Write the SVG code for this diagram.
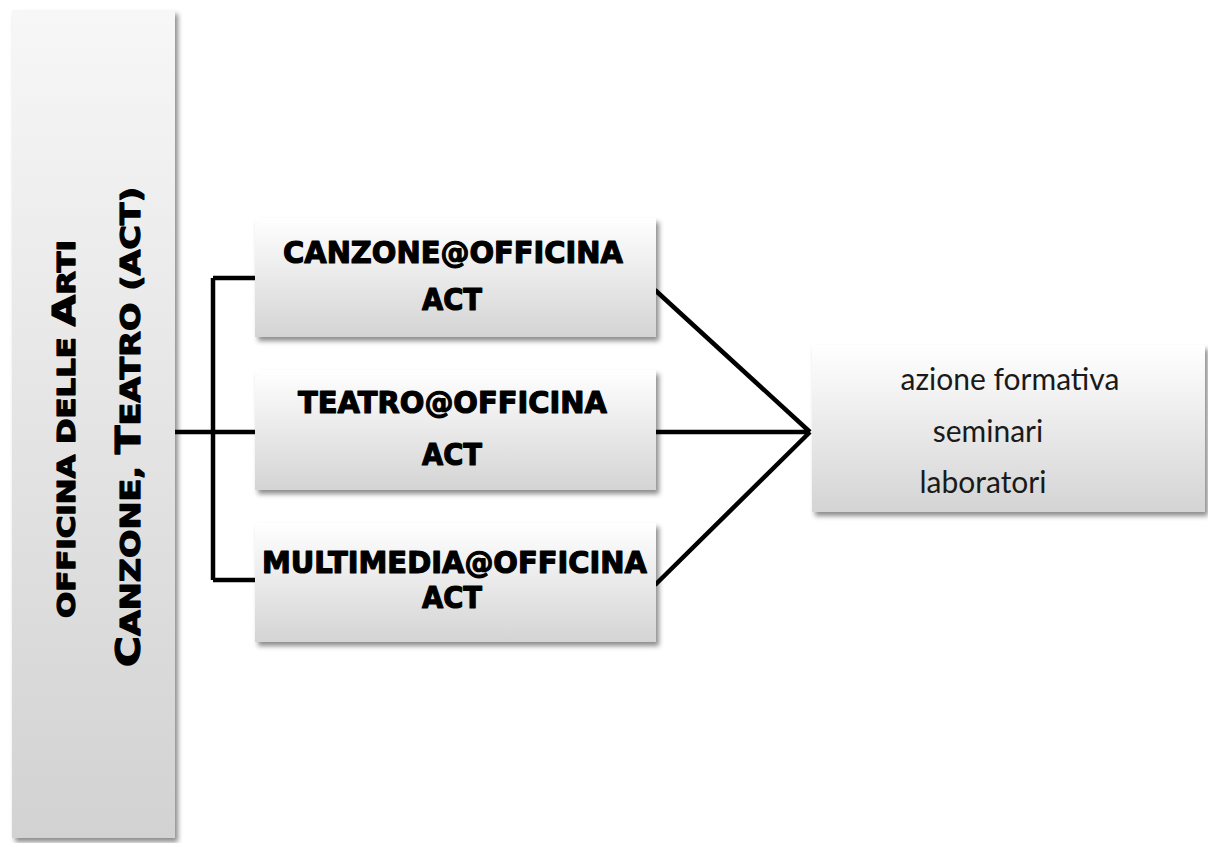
<svg xmlns="http://www.w3.org/2000/svg" width="1208" height="843" viewBox="0 0 1208 843">
<defs>
<linearGradient id="g" x1="0" y1="0" x2="0" y2="1">
<stop offset="0" stop-color="#ffffff"/>
<stop offset="1" stop-color="#d4d4d4"/>
</linearGradient>
<linearGradient id="gl" x1="0" y1="0" x2="0" y2="1">
<stop offset="0" stop-color="#f7f7f7"/>
<stop offset="1" stop-color="#d2d2d2"/>
</linearGradient>
<filter id="sh" x="-10%" y="-10%" width="130%" height="130%">
<feDropShadow dx="3" dy="4" stdDeviation="2.5" flood-color="#000" flood-opacity="0.45"/>
</filter>
</defs>
<style>
.box{fill:url(#g);filter:url(#sh);}
.hd{font-family:"DejaVu Sans",sans-serif;font-weight:bold;fill:#000;stroke:#000;stroke-width:1.2;stroke-linejoin:round;}
.lb{font-family:"Lato","Noto Sans",sans-serif;font-size:30px;fill:#1a1a1a;text-anchor:middle;}
.ln{fill:none;stroke:#000;stroke-width:4.5;}
</style>
<rect width="1208" height="843" fill="#fff"/>
<g id="connectors">
<path class="ln" d="M175 432 H255 M213 278 V580 M213 278 H255 M213 580 H255"/>
<path class="ln" d="M655 290 L810 432 M655 432 H810 M655 585 L810 432"/>
</g>
<g id="node-officina">
<rect x="12" y="10" width="163" height="828" fill="url(#gl)" filter="url(#sh)"/>
<text class="hd" transform="translate(75,618) rotate(-90)" font-size="24" textLength="378" lengthAdjust="spacingAndGlyphs">OFFICINA DELLE <tspan font-size="32">A</tspan>RTI</text>
<text class="hd" transform="translate(140,667) rotate(-90)" font-size="27" textLength="480" lengthAdjust="spacingAndGlyphs"><tspan font-size="34">C</tspan>ANZONE, <tspan font-size="34">T</tspan>EATRO  (ACT)</text>
</g>
<g id="node-canzone">
<rect class="box" x="255" y="218" width="401" height="119"/>
<text class="hd" x="283" y="263" font-size="30" textLength="340" lengthAdjust="spacingAndGlyphs">CANZONE@OFFICINA</text>
<text class="hd" x="422" y="310" font-size="30" textLength="60" lengthAdjust="spacingAndGlyphs">ACT</text>
</g>
<g id="node-teatro">
<rect class="box" x="255" y="370" width="401" height="120"/>
<text class="hd" x="298" y="413" font-size="30" textLength="309" lengthAdjust="spacingAndGlyphs">TEATRO@OFFICINA</text>
<text class="hd" x="422" y="465" font-size="30" textLength="60" lengthAdjust="spacingAndGlyphs">ACT</text>
</g>
<g id="node-multimedia">
<rect class="box" x="255" y="523" width="401" height="119"/>
<text class="hd" x="262" y="573" font-size="30" textLength="385" lengthAdjust="spacingAndGlyphs">MULTIMEDIA@OFFICINA</text>
<text class="hd" x="422" y="608" font-size="30" textLength="60" lengthAdjust="spacingAndGlyphs">ACT</text>
</g>
<g id="node-azione">
<rect class="box" x="812" y="345" width="393" height="167"/>
<text class="lb" x="1010" y="390">azione formativa</text>
<text class="lb" x="988" y="442">seminari</text>
<text class="lb" x="983" y="493">laboratori</text>
</g>
</svg>
